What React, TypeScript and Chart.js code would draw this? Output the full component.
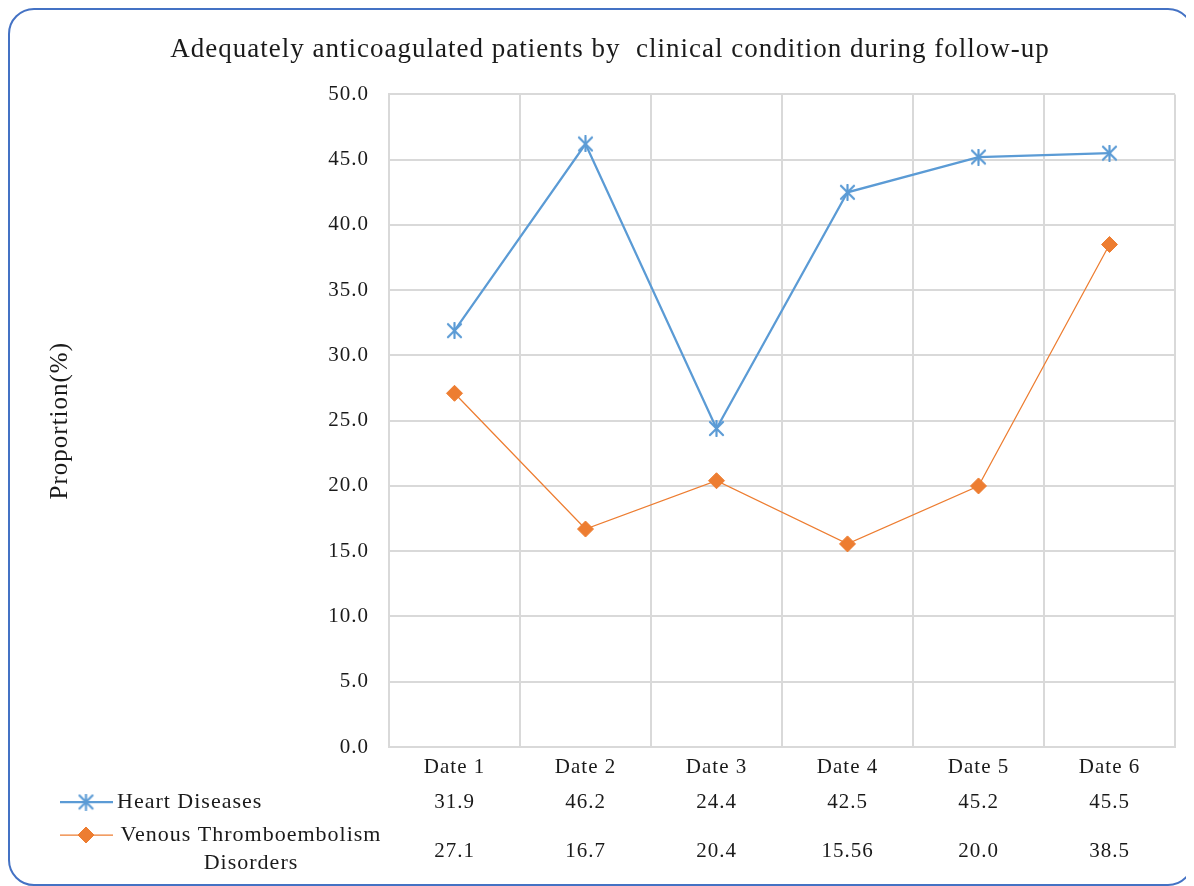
import React, { useEffect, useRef } from "react";
import { Chart, registerables } from "chart.js";
import { drawPoint } from "chart.js/helpers";

Chart.register(...registerables);

const FONT = "'Liberation Serif', 'Times New Roman', serif";
const TEXT = "#1a1a1a";

const TITLE = "Adequately anticoagulated patients by  clinical condition during follow-up";
const Y_TITLE = "Proportion(%)";

const categories = ["Date 1", "Date 2", "Date 3", "Date 4", "Date 5", "Date 6"];
const heartDiseases = [31.9, 46.2, 24.4, 42.5, 45.2, 45.5];
const venousThromboembolism = [27.1, 16.7, 20.4, 15.56, 20.0, 38.5];

const HEART_LABEL = ["Heart Diseases"];
const VENOUS_LABEL = ["Venous Thromboembolism", "Disorders"];

const BLUE = "#5B9BD5";
const ORANGE = "#ED7D31";

const fmt = (v: number) => (Number.isInteger(v) ? v.toFixed(1) : String(v));

// Excel-style asterisk marker (X plus vertical bar)
function makeStar(color: string, size: number): HTMLCanvasElement {
  const c = document.createElement("canvas");
  c.width = size;
  c.height = size;
  const g = c.getContext("2d")!;
  g.strokeStyle = color;
  g.lineWidth = 2.2;
  g.lineCap = "round";
  const m = 2;
  g.beginPath();
  g.moveTo(m, m);
  g.lineTo(size - m, size - m);
  g.moveTo(size - m, m);
  g.lineTo(m, size - m);
  g.moveTo(size / 2, 1);
  g.lineTo(size / 2, size - 1);
  g.stroke();
  return c;
}

const spacingPlugin = {
  id: "spacing",
  beforeLayout(chart: any) {
    chart.ctx.letterSpacing = "1px";
  },
  beforeDraw(chart: any) {
    chart.ctx.letterSpacing = "1px";
  },
};

function makeTablePlugin(star: HTMLCanvasElement) {
  return {
    id: "dataTable",
    afterDraw(chart: any) {
      const { ctx, chartArea, scales } = chart;
      const x = scales.x;
      const bottom = chartArea.bottom;
      const row1 = bottom + 55;
      const row2 = bottom + 104;
      const line1 = bottom + 88;
      ctx.save();
      ctx.letterSpacing = "1px";
      ctx.font = `21px ${FONT}`;
      ctx.fillStyle = TEXT;
      ctx.textBaseline = "middle";
      ctx.textAlign = "center";
      categories.forEach((_, i) => {
        const px = x.getPixelForValue(i);
        ctx.fillText(fmt(heartDiseases[i]), px, row1);
        ctx.fillText(fmt(venousThromboembolism[i]), px, row2);
      });

      const drawKey = (y: number, color: string, style: any, radius: number, lw: number) => {
        ctx.save();
        ctx.strokeStyle = color;
        ctx.fillStyle = color;
        ctx.lineWidth = lw;
        ctx.beginPath();
        ctx.moveTo(50, y);
        ctx.lineTo(103, y);
        ctx.stroke();
        ctx.lineWidth = 1;
        drawPoint(ctx, { pointStyle: style, radius, rotation: 0, borderWidth: 1 } as any, 76, y);
        ctx.restore();
      };
      drawKey(row1, BLUE, star, 8, 2.25);
      drawKey(line1, ORANGE, "rectRot", 8, 1.25);

      ctx.font = `22px ${FONT}`;
      ctx.fillStyle = TEXT;
      ctx.textAlign = "left";
      ctx.fillText(HEART_LABEL[0], 107, row1);
      ctx.textAlign = "center";
      ctx.fillText(VENOUS_LABEL[0], 241, line1);
      ctx.fillText(VENOUS_LABEL[1], 241, line1 + 28);
      ctx.restore();
    },
  };
}

export default function App() {
  const ref = useRef<HTMLCanvasElement>(null);
  useEffect(() => {
    document.documentElement.style.overflow = "hidden";
    document.body.style.overflow = "hidden";
    const star = makeStar(BLUE, 17);
    const chart = new Chart(ref.current!, {
      type: "line",
      data: {
        labels: categories,
        datasets: [
          {
            label: HEART_LABEL[0],
            data: heartDiseases,
            borderColor: BLUE,
            backgroundColor: BLUE,
            borderWidth: 2.25,
            pointStyle: star as any,
            pointRadius: 8,
            tension: 0,
          },
          {
            label: VENOUS_LABEL.join(" "),
            data: venousThromboembolism,
            borderColor: ORANGE,
            backgroundColor: ORANGE,
            borderWidth: 1.25,
            pointStyle: "rectRot",
            pointRadius: 8,
            pointBorderWidth: 1,
            pointBorderColor: ORANGE,
            pointBackgroundColor: ORANGE,
            tension: 0,
          },
        ],
      },
      plugins: [spacingPlugin, makeTablePlugin(star)],
      options: {
        animation: false,
        responsive: true,
        maintainAspectRatio: false,
        layout: { padding: { left: 35, right: 17, top: 0, bottom: 0 } },
        plugins: {
          legend: { display: false },
          tooltip: { enabled: false },
          title: {
            display: true,
            text: TITLE,
            color: TEXT,
            font: { family: FONT, size: 27, weight: "normal" },
            padding: { top: 24, bottom: 28 },
          },
        },
        scales: {
          x: {
            type: "category",
            offset: true,
            grid: { offset: true, color: "#D9D9D9", lineWidth: 2, drawTicks: false },
            border: { color: "#D9D9D9", width: 2 },
            ticks: {
              color: TEXT,
              font: { family: FONT, size: 21 },
              padding: 8,
              maxRotation: 0,
            },
            afterFit(scale: any) {
              scale.height = 137;
            },
          },
          y: {
            min: 0,
            max: 50,
            grid: { color: "#D9D9D9", lineWidth: 2, drawTicks: false },
            border: { color: "#D9D9D9", width: 2 },
            ticks: {
              stepSize: 5,
              color: TEXT,
              font: { family: FONT, size: 21 },
              padding: 20,
              callback: (v: any) => Number(v).toFixed(1),
            },
            title: {
              display: true,
              text: Y_TITLE,
              color: TEXT,
              font: { family: FONT, size: 25 },
              padding: 0,
            },
            afterFit(scale: any) {
              scale.width = 344;
            },
          },
        },
      },
    });
    return () => chart.destroy();
  }, []);

  return (
    <div
      style={{
        width: 1186,
        height: 878,
        border: "2px solid #4472C4",
        borderRadius: 26,
        boxSizing: "border-box",
        position: "relative",
        background: "#fff",
      }}
    >
      <div style={{ position: "absolute", inset: 0 }}>
        <canvas ref={ref} />
      </div>
    </div>
  );
}
